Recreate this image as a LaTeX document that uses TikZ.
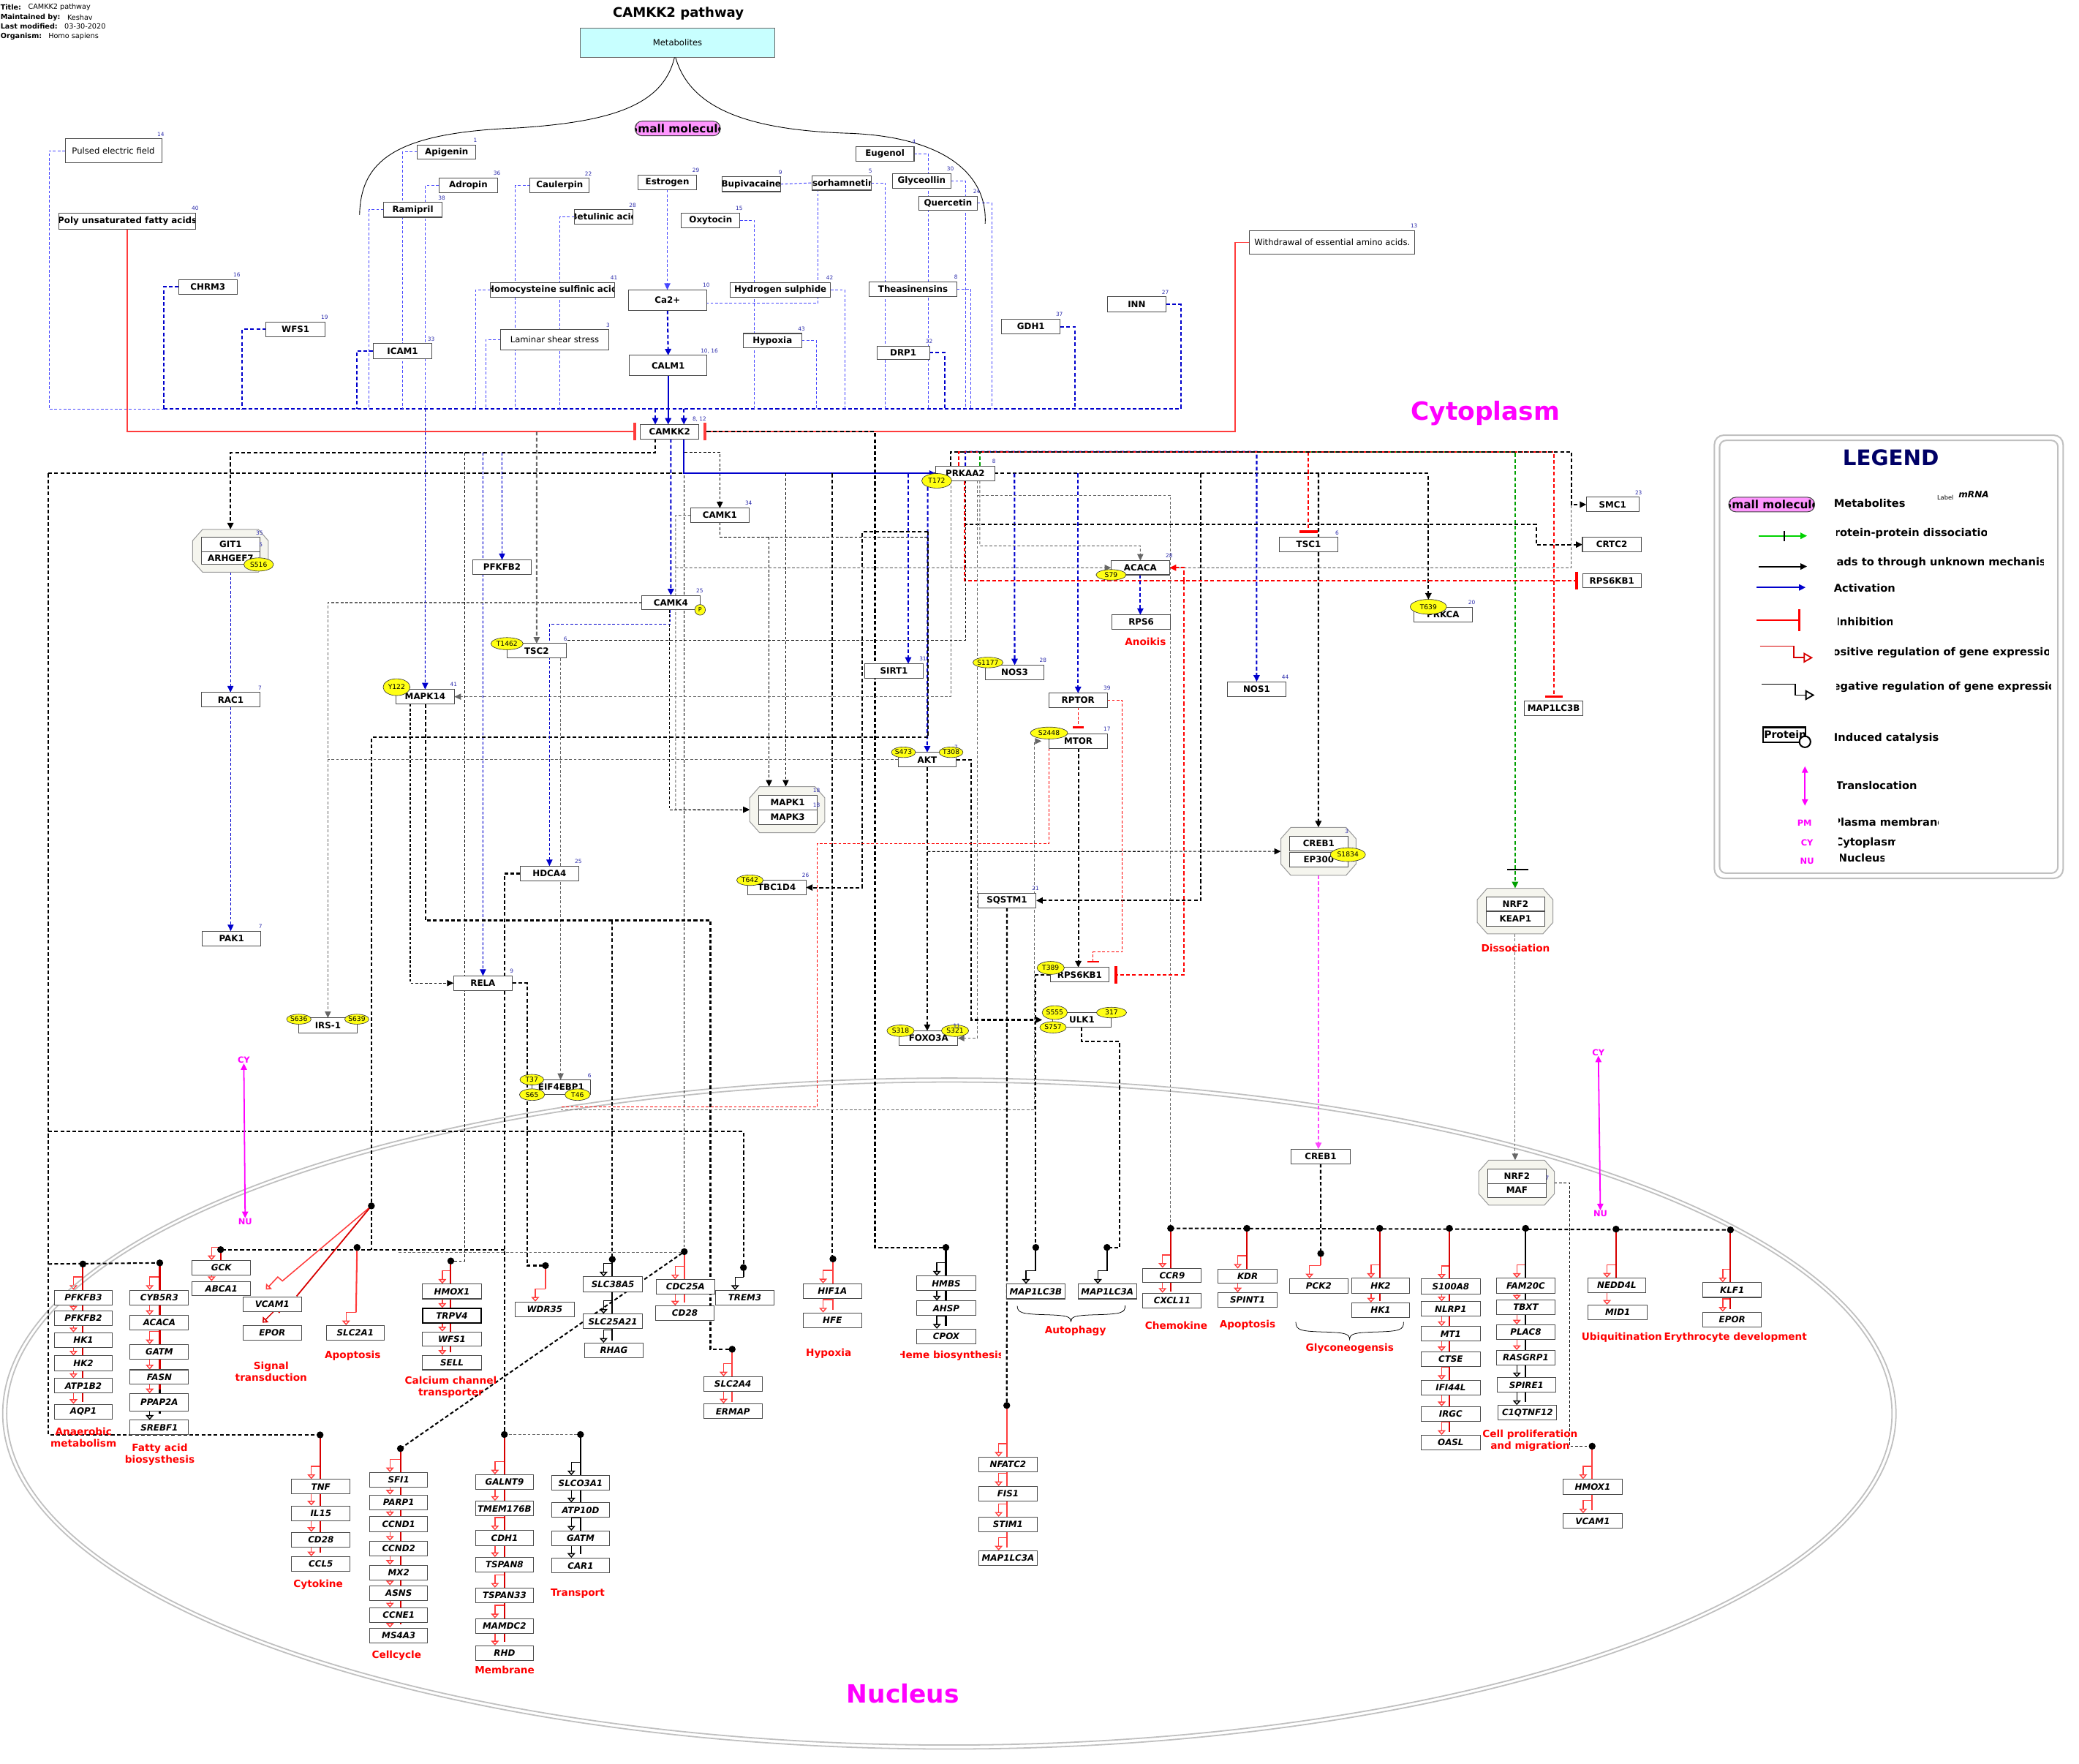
\documentclass[tikz,border=0pt]{standalone}
\usepackage{fontspec}
\setmainfont{DejaVu Sans}
\usetikzlibrary{arrows.meta,shapes.geometric}

\definecolor{pblue}{RGB}{0,0,204}
\definecolor{mblue}{RGB}{70,70,255}
\definecolor{gred}{RGB}{215,0,0}
\definecolor{lred}{RGB}{255,60,60}
\definecolor{mag}{RGB}{255,0,255}
\definecolor{lmag}{RGB}{255,70,255}
\definecolor{ptmy}{RGB}{255,255,20}
\definecolor{metcyan}{RGB}{200,255,255}
\definecolor{pill}{RGB}{255,150,255}
\definecolor{cpxfill}{RGB}{245,245,238}
\definecolor{numblue}{RGB}{40,40,170}
\definecolor{navy}{RGB}{0,0,102}
\definecolor{ggreen}{RGB}{0,160,0}
\definecolor{lgreen}{RGB}{0,210,0}
\definecolor{lgray}{RGB}{192,192,192}

\newcommand\pf{\fontsize{9.3}{10}\selectfont\bfseries}
\newcommand\gf{\fontsize{9.3}{10}\selectfont\bfseries\itshape}
\newcommand\tf{\fontsize{9.1}{10}\selectfont}
\newcommand\pillf{\fontsize{12}{13}\selectfont\bfseries}
\newcommand\lf{\fontsize{11.5}{12}\selectfont\bfseries}

\pgfdeclarelayer{bg}
\pgfsetlayers{bg,main}

\tikzset{
  gbox/.style={draw=black!70,line width=0.8pt,fill=white,inner sep=0pt,outer sep=0pt},
  ptm/.style={ellipse,draw=black!80,line width=0.5pt,fill=ptmy,inner sep=0pt,font=\fontsize{7.2}{8}\selectfont},
  num/.style={inner sep=0pt,text=numblue,font=\fontsize{5.8}{6}\selectfont},
  rlab/.style={inner sep=0pt,text=red,align=center,font=\fontsize{10.7}{12.5}\selectfont\bfseries},
  clab/.style={inner sep=0pt,text=mag,font=\fontsize{9}{10}\selectfont\bfseries},
  meta/.style={anchor=west,inner sep=0pt,font=\fontsize{7.6}{8}\selectfont},
  atip/.style={-{Triangle[length=7pt,width=6.5pt]}},
  otip/.style={-{Triangle[open,length=5pt,width=8.5pt]}},
  inhb/.style={-{Bar[width=19pt,line width=2.8pt]}},
  sinhb/.style={-{Bar[width=12pt,line width=2pt]}},
  dsh/.style={dash pattern=on 3pt off 2pt},
  dshk/.style={dash pattern=on 4pt off 2.5pt},
  mb/.style={mblue,line width=0.8pt,dsh},
  pb/.style={pblue,line width=1.6pt,dshk},
  pbt/.style={pblue,line width=0.8pt,dsh},
  kd/.style={black,line width=0.8pt,dsh},
  kdd/.style={black,line width=1.6pt,dshk},
  gyd/.style={black!60,line width=0.8pt,dsh},
  gydd/.style={black!60,line width=1.6pt,dshk},
  rdt/.style={red,line width=0.8pt,dsh},
  rdd/.style={red,line width=1.6pt,dshk},
  rsol/.style={lred,line width=1.4pt},
  gnd/.style={ggreen,line width=1.6pt,dshk},
  mgd/.style={lmag,line width=1.6pt,dshk},
  gline/.style={line width=1.6pt},
}

% box node given by its corners; the label is clipped to the box
\newcommand\NB[7]{%
  \node[gbox,minimum width={(#5-#3)*0.05cm},minimum height={(#6-#4)*0.05cm},
    path picture={\node[inner sep=0pt,font=#1] at (path picture bounding box.center) {#7};}]
    (#2) at ({(#3+#5)/2},{(#4+#6)/2}) {};}
\newcommand\PN[6]{\NB{\pf}{#1}{#2}{#3}{#4}{#5}{#6}}
\newcommand\GN[6]{\NB{\gf}{#1}{#2}{#3}{#4}{#5}{#6}}
\newcommand\TN[6]{\NB{\tf}{#1}{#2}{#3}{#4}{#5}{#6}}
% gene box with its expression glyph: name x1 x2 y1 y2 text colour xline xglyph
\newcommand\GG[9]{%
  \begin{pgfonlayer}{bg}\draw[#7,line width=1.1pt,otip] (#8,{#4-10}) -- (#9,{#4-10}) -- (#9,{#4-0.3});\end{pgfonlayer}%
  \GN{#1}{#2}{#4}{#3}{#5}{#6}}
% complex: octagonal outline plus an anchor node of the same extent
\newcommand\CX[5]{%
  \node[inner sep=0pt,outer sep=0pt,minimum width={(#4-#2)*0.05cm},minimum height={(#5-#3)*0.05cm}] (#1) at ({(#2+#4)/2},{(#3+#5)/2}) {};
  \draw[draw=black!40,line width=0.8pt,fill=cpxfill] ({#2+7.5},#3) -- ({#4-7.5},#3) -- (#4,{#3+8.5}) -- (#4,{#5-8.5})
     -- ({#4-7.5},#5) -- ({#2+7.5},#5) -- (#2,{#5-8.5}) -- (#2,{#3+8.5}) -- cycle;}
% phosphosite
\newcommand\PT[6]{\node[ptm,minimum width={#4*0.05cm},minimum height={#5*0.05cm}] (#1) at (#2,#3) {#6};}
% small-molecule pill
\newcommand\PILL[5]{\node[draw=black!75,line width=0.8pt,fill=pill,rounded corners=0.27cm,inner sep=0pt,
   minimum width={(#4-#2)*0.05cm},minimum height={(#5-#3)*0.05cm},
   path picture={\node[inner sep=0pt,font=\pillf] at (path picture bounding box.center) {Small molecule};}]
   (#1) at ({(#2+#4)/2},{(#3+#5)/2}) {};}
\newcounter{numc}
\newcommand\NUM[3]{\stepcounter{numc}\node[num] (num\arabic{numc}) at (#1,#2) {#3};}
\newcommand\DOT[3]{\coordinate (#1) at (#2,#3);\fill (#1) circle[radius=0.13cm];}
\newcommand\RL[4]{\node[rlab] (#1) at (#2,#3) {#4};}
\newcommand\LT[5]{\begin{scope}\clip (#2,{#4-9}) rectangle (#3,{#4+9});\node[inner sep=0pt,font=\lf] (#1) at ({(#2+#3)/2},#4) {#5};\end{scope}}

\begin{document}
\begin{tikzpicture}[x=0.05cm,y=-0.05cm]
\useasboundingbox (0,0) rectangle (1568,1330);

% ---------- header ----------
\node[meta,font=\fontsize{7.6}{8}\selectfont\bfseries] (m1a) at (0.3,5.3) {Title:};
\node[meta] (m1b) at (21.1,5.3) {CAMKK2 pathway};
\node[meta,font=\fontsize{7.6}{8}\selectfont\bfseries] (m2a) at (0.3,13.3) {Maintained by:};
\node[meta] (m2b) at (50.6,13.3) {Keshav};
\node[meta,font=\fontsize{7.6}{8}\selectfont\bfseries] (m3a) at (0.3,19.9) {Last modified:};
\node[meta] (m3b) at (48.5,19.9) {03-30-2020};
\node[meta,font=\fontsize{7.6}{8}\selectfont\bfseries] (m4a) at (0.3,27.7) {Organism:};
\node[meta] (m4b) at (36.4,27.7) {Homo sapiens};
\node[inner sep=0pt,font=\fontsize{14.2}{15}\selectfont\bfseries] (title) at (511.6,10.1) {CAMKK2 pathway};
\node[draw=black!60,line width=0.8pt,fill=metcyan,inner sep=0pt,minimum width={146.4*0.05cm},minimum height={22.2*0.05cm},font=\tf] (metab) at (511,32.2) {Metabolites};
\draw[black,line width=0.7pt] (508.7,43.3) .. controls (500,80) and (460,92) .. (390,96.5) .. controls (300,100) and (272,120) .. (271.2,162.1);
\draw[black,line width=0.7pt] (509.5,43.3) .. controls (520,80) and (560,98) .. (640,100.5) .. controls (710,103) and (745,130) .. (743,168.7);
\PILL{smallmol}{478.9}{91.4}{543.3}{102.4}

% ---------- inputs ----------
\TN{pef}{49.1}{104.7}{121.9}{122.6}{Pulsed electric field}
\PN{pufa}{44.6}{160.7}{147.5}{172.8}{Poly unsaturated fatty acids}
\PN{apigenin}{314.7}{109.3}{359}{120}{Apigenin}
\PN{adropin}{331}{134.4}{375.4}{145.1}{Adropin}
\PN{ramipril}{289.4}{152.6}{333.4}{163.8}{Ramipril}
\PN{chrm3}{134.8}{210.8}{178.8}{222.1}{CHRM3}
\PN{wfs1c}{200.7}{242.9}{245.1}{253.8}{WFS1}
\PN{icam1}{281.5}{259}{325.8}{270.3}{ICAM1}
\PN{homocys}{369.8}{212.9}{463.4}{224.1}{Homocysteine sulfinic acid}
\TN{laminar}{377.5}{248.6}{459.2}{263.9}{Laminar shear stress}
\PN{caulerpin}{399.8}{134.4}{444.4}{145.4}{Caulerpin}
\PN{betulinic}{433.3}{157.8}{477.6}{169}{Betulinic acid}
\PN{estrogen}{481.3}{132.1}{525.3}{143.1}{Estrogen}
\PN{oxytocin}{514}{160.7}{558}{171.9}{Oxytocin}
\PN{bupi}{544.6}{133.3}{588.6}{144.5}{Bupivacaine}
\PN{isorh}{612.7}{132.4}{657}{143.4}{Isorhamnetin}
\PN{eugenol}{645.4}{110.5}{689.4}{121.4}{Eugenol}
\PN{glyceollin}{673.1}{131}{717.1}{141.9}{Glyceollin}
\PN{quercetin}{692.8}{148}{737.2}{158.3}{Quercetin}
\PN{ca}{473.9}{218.6}{533}{234.2}{Ca2+}
\PN{calm1}{474.7}{268}{533.2}{283.2}{CALM1}
\PN{hs}{550.7}{213.4}{626.4}{224.1}{Hydrogen sulphide}
\PN{hypoxia}{560.4}{251.5}{604.7}{262.5}{Hypoxia}
\PN{theas}{655.6}{212.6}{721.6}{223.5}{Theasinensins}
\PN{drp1}{661.4}{261}{701}{271.1}{DRP1}
\PN{gdh1}{755.4}{240.8}{799.7}{251.8}{GDH1}
\PN{inn}{835.1}{223.8}{879.5}{235.1}{INN}
\TN{withdrawal}{942.5}{173.9}{1067}{191.8}{Withdrawal of essential amino acids.}
\PN{camkk2}{482.9}{320.2}{527.2}{331.1}{CAMKK2}
\node[inner sep=0pt,text=mag,font=\fontsize{27}{30}\selectfont\bfseries] (cytolab) at (1120.3,311.5) {Cytoplasm};

% ---------- cytoplasm ----------
\PN{prkaa2}{705.8}{351.6}{750.1}{362.6}{PRKAA2}
\PN{camk1}{520.9}{383.3}{564.9}{394}{CAMK1}
\CX{gitcx}{145.3}{399.2}{202.3}{431.5}
\PN{git1}{151.9}{405.2}{196}{416.2}{GIT1}
\PN{arhgef7}{151.9}{416.2}{196}{425.4}{ARHGEF7}
\PN{pfkfb2c}{356.6}{422.3}{400.7}{433.2}{PFKFB2}
\PN{acaca}{838}{422.8}{882.1}{433.5}{ACACA}
\PN{tsc1}{964.9}{405.2}{1009}{416.2}{TSC1}
\PN{smc1}{1196.4}{375}{1236.1}{386}{SMC1}
\PN{crtc2}{1193.5}{405.2}{1237.7}{416.2}{CRTC2}
\PN{rps6kbr}{1193.7}{432.4}{1237.7}{443.3}{RPS6KB1}
\PN{camk4}{483.9}{449}{528}{459.9}{CAMK4}
\PN{rps6}{838.8}{463.7}{882.6}{474.6}{RPS6}
\PN{prkca}{1066.2}{458.2}{1110.5}{469.1}{PRKCA}
\PN{tsc2}{382.5}{485.3}{427}{496.3}{TSC2}
\PN{rac1}{151.9}{522.2}{196}{533.2}{RAC1}
\PN{mapk14}{298.6}{519.9}{342.7}{530.9}{MAPK14}
\PN{sirt1}{652.2}{500.6}{696.3}{511.5}{SIRT1}
\PN{nos3}{743.2}{501.7}{787.3}{512.7}{NOS3}
\PN{nos1}{925.6}{514.1}{969.9}{525.1}{NOS1}
\PN{rptor}{791.1}{522.8}{835.1}{533.5}{RPTOR}
\PN{map1lc3br}{1149.8}{528.6}{1193.7}{539.8}{MAP1LC3B}
\PN{mtor}{791.1}{553.4}{835.4}{564.3}{MTOR}
\PN{akt}{677.3}{567.5}{721.3}{578.5}{AKT}
\CX{mapkcx}{565.4}{593.2}{622.1}{628}
\PN{mapk1}{572}{599.8}{616.1}{610.8}{MAPK1}
\PN{mapk3}{572}{610.8}{616.1}{621.7}{MAPK3}
\CX{crebcx}{966}{624}{1022.7}{660.1}
\PN{creb1c}{972.6}{630.7}{1016.6}{641.6}{CREB1}
\PN{ep300}{972.6}{642.8}{1016.6}{653.7}{EP300}
\CX{nrfcx}{1114.2}{669.9}{1171.2}{704.2}
\PN{nrf2a}{1120.8}{676.2}{1165.1}{687.2}{NRF2}
\PN{keap1}{1120.8}{687.2}{1165.1}{698.4}{KEAP1}
\PN{hdca4}{392.4}{653.2}{436.4}{664.4}{HDCA4}
\PN{tbc1d4}{563.8}{663.8}{607.9}{674.8}{TBC1D4}
\PN{sqstm1}{737.4}{673.6}{781.5}{684.6}{SQSTM1}
\PN{pak1}{152.5}{702.2}{196.8}{713.2}{PAK1}
\PN{rela}{342.1}{735.9}{386.4}{746.9}{RELA}
\PN{rps6kb1}{792.1}{729.6}{836.5}{740.6}{RPS6KB1}
\PN{irs1}{225.3}{767.7}{269.3}{778.9}{IRS-1}
\PN{ulk1}{794}{763.6}{838}{774.6}{ULK1}
\PN{foxo3a}{678.3}{777.5}{722.4}{788.4}{FOXO3A}
\PN{eif4ebp1}{401.4}{814.4}{445.1}{825.4}{EIF4EBP1}
\PN{creb1n}{973.9}{866.6}{1018.2}{877.6}{CREB1}
\CX{mafcx}{1115.3}{874.9}{1172.3}{908.8}
\PN{nrf2b}{1121.9}{881.6}{1166.2}{892.4}{NRF2}
\PN{maf}{1121.9}{892.4}{1166.2}{903}{MAF}

% phosphosites
\PT{p_t172}{706.5}{362.6}{22.7}{11}{T172}
\PT{p_s516}{195.1}{425.7}{22.4}{10}{S516}
\PT{p_s79}{838}{433.5}{22.7}{8}{S79}
\PT{p_t639}{1077.3}{457.6}{27.4}{11.2}{T639}
\PT{p_t1462}{382.4}{485.4}{24.3}{9.2}{T1462}
\PT{p_y122}{299.1}{518.2}{20.3}{12.7}{Y122}
\PT{p_s1177}{745.1}{499.6}{21.6}{8}{S1177}
\PT{p_s2448}{791.2}{552.8}{28}{9}{S2448}
\PT{p_s473}{681.4}{567.3}{17}{8}{S473}
\PT{p_t308}{717.3}{567.3}{17.4}{8}{T308}
\PT{p_s1834}{1016.6}{644.5}{26.4}{10.4}{S1834}
\PT{p_t642}{565.6}{663.8}{20}{8}{T642}
\PT{p_t389}{792.4}{729.9}{20.6}{9.8}{T389}
\PT{p_s636}{225.4}{768.6}{18.5}{7.5}{S636}
\PT{p_s639}{269.1}{768.6}{16}{7.5}{S639}
\PT{p_s555}{795.5}{763.6}{19}{10.4}{S555}
\PT{p_s757}{794.2}{774.7}{20}{8.6}{S757}
\PT{p_317}{838.3}{763.6}{22.7}{8}{317}
\PT{p_s318}{679.2}{777.3}{20.6}{8.7}{S318}
\PT{p_s321}{720.3}{777.3}{20.6}{8.7}{S321}
\PT{p_t37}{401.1}{814.2}{18}{8}{T37}
\PT{p_s65}{401.3}{825.5}{19}{8.7}{S65}
\PT{p_t46}{435.6}{825.5}{19}{8.7}{T46}
\node[circle,draw=black!80,line width=0.5pt,fill=ptmy,minimum size={8*0.05cm},inner sep=0pt,font=\fontsize{6.3}{7}\selectfont] (p_camk4) at (528,459.9) {P};

% reference numbers
\NUM{121.3}{101.5}{14}\NUM{147.2}{157.2}{40}\NUM{358.5}{105.9}{1}\NUM{374.8}{130.7}{36}
\NUM{333.2}{149.4}{38}\NUM{178.6}{207.4}{16}\NUM{244.8}{239.4}{19}\NUM{325.2}{255.8}{33}
\NUM{463.1}{209.7}{41}\NUM{458.6}{245.5}{3}\NUM{443.8}{131.2}{22}\NUM{477.1}{154.6}{28}
\NUM{524.8}{128.4}{29}\NUM{557.5}{157.2}{15}\NUM{588.6}{130.1}{9}\NUM{656.4}{128.9}{5}
\NUM{689.2}{106.7}{4}\NUM{716.8}{127.5}{30}\NUM{736.6}{144.2}{24}\NUM{532.7}{214.9}{10}
\NUM{535}{264.8}{10, 16}\NUM{625.8}{209.4}{42}\NUM{604.5}{248}{43}\NUM{721}{208.8}{8}
\NUM{700.8}{257.6}{32}\NUM{799}{237.1}{37}\NUM{878.9}{220.4}{27}\NUM{1066.5}{170.5}{13}
\NUM{527.5}{316.4}{8, 12}\NUM{749.6}{348.1}{8}\NUM{564.6}{379.3}{34}\NUM{195.7}{402.1}{35}
\NUM{196.8}{410.7}{5}\NUM{881.8}{419.1}{28}\NUM{1008.4}{402.1}{6}\NUM{1235.8}{371.8}{23}
\NUM{527.7}{445.5}{25}\NUM{1110}{454.4}{20}\NUM{426.4}{482.1}{6}\NUM{196}{518.8}{7}
\NUM{342.1}{516.2}{41}\NUM{696}{496.8}{31}\NUM{786.7}{497.7}{28}\NUM{969.4}{510.7}{44}
\NUM{834.9}{519}{39}\NUM{834.9}{549.6}{17}\NUM{721.1}{563.7}{7}\NUM{615.8}{596}{18}
\NUM{615.8}{607}{18}\NUM{1015.8}{627.2}{3}\NUM{436.2}{649.4}{25}\NUM{607.6}{660.1}{26}
\NUM{781}{669.9}{21}\NUM{196.5}{698.7}{7}\NUM{385.9}{732.2}{9}\NUM{721.6}{773.7}{11}
\NUM{444.6}{811.2}{6}\NUM{1167}{888.4}{7}

\RL{anoikis}{863.9}{484.1}{Anoikis}
\RL{dissoc}{1143}{714.9}{Dissociation}

% translocation markers
\node[clab] (cy1) at (183.9,799.4) {CY};
\node[clab] (nu1) at (184.9,921.1) {NU};
\node[clab] (cy2) at (1205.5,793.6) {CY};
\node[clab] (nu2) at (1207,915.2) {NU};

% ---------- nucleus ----------
\node[inner sep=0pt,text=mag,font=\fontsize{27}{30}\selectfont\bfseries] (nuclab) at (681,1277) {Nucleus};

\DOT{d_anae}{62.5}{953.2}\DOT{d_fatty}{120.5}{952.4}\DOT{d_gck}{166.4}{942.4}
\DOT{d_vcam}{280.1}{909.4}\DOT{d_slc2a1}{269.3}{940.7}\DOT{d_calc}{340}{950.9}
\DOT{d_wdr35}{411.4}{954.4}\DOT{d_slc38}{461.8}{949.7}\DOT{d_cdc}{516.1}{943.9}
\DOT{d_trem3}{560.7}{955.9}\DOT{d_slc2a4}{552.2}{1017.5}\DOT{d_hif1a}{628.2}{949.4}
\DOT{d_hmbs}{713.4}{940.7}\DOT{d_map1lc3b}{781.2}{940.7}\DOT{d_map1lc3a}{834.9}{940.7}
\DOT{d_ccr9}{882.9}{926.3}\DOT{d_kdr}{940.4}{926.3}\DOT{d_pck2}{996.1}{945.3}
\DOT{d_hk2}{1040.6}{926.3}\DOT{d_s100}{1093.1}{926.3}\DOT{d_fam}{1150.6}{926.3}
\DOT{d_nedd}{1218.8}{926.9}\DOT{d_klf1}{1305.1}{927.5}\DOT{d_hmox1r}{1200.8}{1090.6}
\DOT{d_tnf}{241.4}{1082.1}\DOT{d_sfi1}{302}{1092.4}\DOT{d_galnt9}{380.4}{1081.8}
\DOT{d_slco}{437.8}{1081.8}\DOT{d_nfatc2}{759.3}{1059.9}

\GG{g_pfkfb3}{40.9}{84.9}{973}{984}{PFKFB3}{lred}{62.5}{55.4}
\GG{g_pfkfb2}{40.9}{84.9}{988.6}{999.4}{PFKFB2}{lred}{62.5}{55.4}
\GG{g_hk1a}{40.9}{84.9}{1005}{1016}{HK1}{lred}{62.5}{55.4}
\GG{g_hk2a}{40.9}{84.9}{1022.5}{1033.6}{HK2}{lred}{62.5}{55.4}
\GG{g_atp1b2}{40.9}{84.9}{1039.5}{1050.6}{ATP1B2}{lred}{62.5}{55.4}
\GG{g_aqp1}{40.9}{84.9}{1059}{1070}{AQP1}{lred}{62.5}{55.4}
\GG{g_cyb5r3}{98.1}{142.2}{973}{984}{CYB5R3}{lred}{120.5}{112.9}
\GG{g_acacan}{98.1}{142.2}{992}{1003}{ACACA}{lred}{120.5}{112.9}
\GG{g_gatma}{98.1}{142.2}{1014}{1025}{GATM}{lred}{120.5}{112.9}
\GG{g_fasn}{98.1}{142.2}{1033}{1044}{FASN}{lred}{120.5}{112.9}
\GG{g_ppap2a}{98.1}{142.2}{1051}{1064}{PPAP2A}{lred}{120.5}{112.9}
\GG{g_srebf1}{98.1}{142.2}{1071}{1082}{SREBF1}{black}{120.5}{112.9}
\GG{g_gck}{145}{189}{950.6}{961.4}{GCK}{lred}{166.4}{159.6}
\GG{g_abca1}{145}{189}{966.4}{977.2}{ABCA1}{lred}{166.4}{159.6}
\GN{g_vcam1a}{183.3}{978}{227.4}{989}{VCAM1}
\GN{g_epora}{183.3}{999.7}{227.4}{1010.5}{EPOR}
\GG{g_slc2a1}{246}{290}{999.7}{1010.5}{SLC2A1}{lred}{268.5}{261}
\GG{g_hmox1a}{318.7}{363}{968.4}{979.5}{HMOX1}{lred}{340}{333.6}
\GG{g_trpv4}{318.7}{363}{986.6}{997.7}{TRPV4}{lred}{340}{333.6}
\draw[line width=1.8pt] (g_trpv4.north west) rectangle (g_trpv4.south east);
\GG{g_wfs1n}{318.7}{363}{1004.4}{1015.2}{WFS1}{lred}{340}{333.6}
\GG{g_sell}{318.7}{363}{1022}{1033}{SELL}{lred}{340}{333.6}
\GG{g_wdr35}{388.7}{433}{981.9}{993}{WDR35}{lred}{411.4}{403.7}
\GG{g_slc38a5}{440.1}{484.4}{962.9}{974}{SLC38A5}{black}{461.8}{455.2}
\GG{g_slc25a21}{440.1}{484.4}{991}{1002}{SLC25A21}{black}{461.8}{455.2}
\GG{g_rhag}{441}{485}{1012.9}{1023.7}{RHAG}{black}{461.8}{455.2}
\GG{g_cdc25a}{495}{539}{965}{976}{CDC25A}{lred}{516.1}{509.2}
\GG{g_cd28a}{494.5}{538.5}{984.8}{995.6}{CD28}{lred}{516.1}{509.2}
\GG{g_trem3}{539.6}{583.9}{973.1}{984.2}{TREM3}{black}{560.7}{554.4}
\GG{g_slc2a4}{530.6}{574.9}{1038.3}{1049.4}{SLC2A4}{lred}{552.2}{545.7}
\GG{g_ermap}{530.6}{574.9}{1058.7}{1069.9}{ERMAP}{lred}{552.2}{545.7}
\GG{g_hif1a}{605.8}{649.8}{968.1}{979.2}{HIF1A}{lred}{628.2}{620.8}
\GG{g_hfe}{605.8}{649.8}{990.1}{1001.2}{HFE}{lred}{628.2}{620.8}
\GG{g_hmbs}{691.5}{735.8}{962.3}{973.4}{HMBS}{black}{713.4}{706.6}
\GG{g_ahsp}{691.5}{735.8}{981}{992.1}{AHSP}{black}{713.4}{706.6}
\GG{g_cpox}{691.5}{735.8}{1002.3}{1013.4}{CPOX}{black}{713.4}{706.6}
\GG{g_map1lc3b}{759}{803.3}{968.4}{979.5}{MAP1LC3B}{black}{781.2}{773.8}
\GG{g_map1lc3a}{813}{857.3}{968.4}{979.5}{MAP1LC3A}{black}{834.9}{828}
\GG{g_ccr9}{862}{906.1}{956.4}{967}{CCR9}{lred}{882.9}{876.8}
\GG{g_cxcl11}{862}{906.1}{975.2}{986.3}{CXCL11}{lred}{882.9}{876.8}
\GG{g_kdr}{918.8}{963.1}{957}{967.9}{KDR}{lred}{940.4}{933.5}
\GG{g_spint1}{918.8}{963.1}{974.9}{985.7}{SPINT1}{lred}{940.4}{933.5}
\GG{g_pck2}{972.6}{1016.6}{964.3}{975.4}{PCK2}{lred}{996.1}{987.6}
\GG{g_hk2b}{1019.3}{1063.3}{964}{975.2}{HK2}{lred}{1040.6}{1034}
\GG{g_hk1b}{1019.3}{1063.3}{982.5}{993.6}{HK1}{lred}{1040.6}{1034}
\GG{g_s100a8}{1072}{1116.3}{964.6}{975.7}{S100A8}{lred}{1093.1}{1087.3}
\GG{g_nlrp1}{1072}{1116.3}{981.6}{992.7}{NLRP1}{lred}{1093.1}{1087.3}
\GG{g_mt1}{1072}{1116.3}{1000.3}{1011.4}{MT1}{lred}{1093.1}{1087.3}
\GG{g_ctse}{1072}{1116.3}{1019.3}{1030.4}{CTSE}{lred}{1093.1}{1087.3}
\GG{g_ifi44l}{1072}{1116.3}{1040.9}{1052}{IFI44L}{lred}{1093.1}{1087.3}
\GG{g_irgc}{1072}{1116.3}{1060.8}{1071.9}{IRGC}{lred}{1093.1}{1087.3}
\GG{g_oasl}{1072}{1116.3}{1082.4}{1093.5}{OASL}{lred}{1093.1}{1087.3}
\GG{g_fam20c}{1128.7}{1172.8}{964}{975.2}{FAM20C}{lred}{1150.6}{1144}
\GG{g_tbxt}{1128.7}{1172.8}{980.4}{991.2}{TBXT}{lred}{1150.6}{1144}
\GG{g_plac8}{1128.7}{1172.8}{999.1}{1010.2}{PLAC8}{lred}{1150.6}{1144}
\GG{g_rasgrp1}{1128.7}{1172.8}{1018.4}{1029.5}{RASGRP1}{lred}{1150.6}{1144}
\GG{g_spire1}{1129.2}{1173.3}{1038.9}{1050}{SPIRE1}{black}{1150.6}{1144}
\GG{g_c1qtnf12}{1130}{1174.1}{1059.9}{1071}{C1QTNF12}{black}{1150.6}{1144}
\GG{g_nedd4l}{1197.4}{1241.3}{963.8}{974.9}{NEDD4L}{lred}{1218.8}{1212}
\GG{g_mid1}{1197.9}{1242.4}{984.2}{995.3}{MID1}{lred}{1218.8}{1212}
\GG{g_klf1}{1284.2}{1328.6}{967.3}{978.4}{KLF1}{lred}{1305.1}{1299.3}
\GG{g_eporb}{1284.2}{1328.6}{989.5}{1000.6}{EPOR}{lred}{1305.1}{1299.3}
\GG{g_hmox1b}{1179.1}{1223.3}{1115.7}{1126.8}{HMOX1}{lred}{1200.8}{1194}
\GG{g_vcam1b}{1179.1}{1223.3}{1141.5}{1152.6}{VCAM1}{lred}{1200.8}{1194}
\GG{g_tnf}{220}{264}{1115.7}{1126.6}{TNF}{lred}{241.4}{234.8}
\GG{g_il15}{220}{264}{1135.6}{1146.7}{IL15}{lred}{241.4}{234.8}
\GG{g_cd28b}{220}{264}{1155.5}{1166.6}{CD28}{lred}{241.4}{234.8}
\GG{g_ccl5}{220}{264}{1173.9}{1185}{CCL5}{lred}{241.4}{234.8}
\GG{g_sfi1}{278.8}{322.6}{1110.5}{1121.6}{SFI1}{lred}{302}{294.1}
\GG{g_parp1}{278.8}{322.6}{1127.4}{1138.5}{PARP1}{lred}{302}{294.1}
\GG{g_ccnd1}{278.8}{322.6}{1143.8}{1154.9}{CCND1}{lred}{302}{294.1}
\GG{g_ccnd2}{278.8}{322.6}{1162.2}{1173.3}{CCND2}{lred}{302}{294.1}
\GG{g_mx2}{278.8}{322.6}{1180.3}{1191.4}{MX2}{lred}{302}{294.1}
\GG{g_asns}{278.8}{322.6}{1195.8}{1206.9}{ASNS}{lred}{302}{294.1}
\GG{g_ccne1}{278.8}{322.6}{1212.5}{1223.6}{CCNE1}{lred}{302}{294.1}
\GG{g_ms4a3}{278.8}{322.6}{1227.7}{1238.8}{MS4A3}{lred}{302}{294.1}
\GG{g_galnt9}{358.5}{402.5}{1112.2}{1123.3}{GALNT9}{lred}{380.4}{373.3}
\GG{g_tmem176b}{358.5}{402.5}{1132.1}{1143.2}{TMEM176B}{lred}{380.4}{373.3}
\GG{g_cdh1}{358.5}{402.5}{1154.3}{1165.4}{CDH1}{lred}{380.4}{373.3}
\GG{g_tspan8}{358.5}{402.5}{1174.5}{1185.6}{TSPAN8}{lred}{380.4}{373.3}
\GG{g_tspan33}{358.5}{402.5}{1197.6}{1208.7}{TSPAN33}{lred}{380.4}{373.3}
\GG{g_mamdc2}{358.5}{402.5}{1220.7}{1231.8}{MAMDC2}{lred}{380.4}{373.3}
\GG{g_rhd}{358.5}{402.5}{1241.1}{1252.2}{RHD}{lred}{380.4}{373.3}
\GG{g_slco3a1}{415.9}{459.9}{1112.8}{1123.9}{SLCO3A1}{black}{437.8}{430.9}
\GG{g_atp10d}{415.9}{459.9}{1133.3}{1144.4}{ATP10D}{black}{437.8}{430.9}
\GG{g_gatmb}{415.9}{459.9}{1154.6}{1165.7}{GATM}{black}{437.8}{430.9}
\GG{g_car1}{415.9}{459.9}{1175.1}{1186.2}{CAR1}{black}{437.8}{430.9}
\GG{g_nfatc2}{738.2}{782.3}{1098.8}{1109.9}{NFATC2}{lred}{759.3}{753.2}
\GG{g_fis1}{738.2}{782.3}{1121}{1132.1}{FIS1}{lred}{759.3}{753.2}
\GG{g_stim1}{738.2}{782.3}{1144.1}{1155.2}{STIM1}{lred}{759.3}{753.2}
\GG{g_map1lc3ab}{738.2}{782.3}{1169.5}{1180.6}{MAP1LC3A}{lred}{759.3}{753.2}

% process labels
\RL{l_anae}{63}{1083.9}{Anaerobic\\metabolism}
\RL{l_fatty}{120.5}{1097}{Fatty acid\\biosysthesis}
\RL{l_signal}{204.5}{1034.2}{Signal\\transduction}
\RL{l_apop1}{266}{1022.5}{Apoptosis}
\RL{l_calc}{340}{1046.2}{Calcium channel\\transporter}
\RL{l_cytok}{240}{1194.9}{Cytokine}
\RL{l_cellc}{299.1}{1248.4}{Cellcycle}
\RL{l_membr}{380.6}{1259.5}{Membrane}
\RL{l_transp}{435.7}{1202}{Transport}
\RL{l_hypox}{625}{1021}{Hypoxia}
\begin{scope}\clip (679,1014) rectangle (755,1031);\RL{l_heme}{717}{1022.2}{Heme biosynthesis}\end{scope}
\RL{l_autoph}{811.1}{1003.8}{Autophagy}
\RL{l_chemo}{887.1}{999.4}{Chemokine}
\RL{l_apop2}{940.9}{999.1}{Apoptosis}
\RL{l_glyco}{1018}{1016.7}{Glyconeogensis}
\RL{l_prolif}{1154}{1086.5}{Cell proliferation\\and migration}
\node[rlab,anchor=west] (l_ubiq) at (1192.7,1008.8) {Ubiquitination};
\node[rlab,anchor=west] (l_ery) at (1254.9,1008.8) {Erythrocyte development};

% braces
\draw[black,line width=0.6pt] (767.2,984.8) .. controls (767.5,990) and (770,991) .. (790,991.5) .. controls (805,992) and (807.5,993) .. (807.7,996.5) .. controls (808,993) and (810,992) .. (826,991.5) .. controls (846,991) and (848.6,990) .. (848.6,984.5);
\draw[black,line width=0.6pt] (977.3,997) .. controls (977.5,1003) and (980,1004) .. (1000,1004.5) .. controls (1015,1005) and (1017.6,1006) .. (1017.9,1010) .. controls (1018.2,1006) and (1021,1005) .. (1036,1004.5) .. controls (1056,1004) and (1058.6,1003) .. (1058.6,997);

% ---------- legend ----------
\draw[lgray,line width=1.6pt,rounded corners=0.35cm] (1293,328.2) rectangle (1556,662.4);
\draw[lgray,line width=1.6pt,rounded corners=0.25cm] (1296.9,332.1) rectangle (1552.1,658.5);
\node[inner sep=0pt,text=navy,font=\fontsize{23}{25}\selectfont\bfseries] (legtitle) at (1426.1,345.3) {LEGEND};
\PILL{legpill}{1303.8}{375}{1368.6}{386}
\node[inner sep=0pt,anchor=west,font=\lf] (l_metab) at (1383,379.3) {Metabolites};
\node[inner sep=0pt,anchor=east,font=\fontsize{6.5}{7}\selectfont] (l_label) at (1473.5,375) {Label};
\node[inner sep=0pt,font=\fontsize{9.5}{10}\selectfont\bfseries\itshape] (l_mrna) at (1488.6,372.7) {mRNA};
\coordinate (lg1a) at (1326.3,404.1); \coordinate (lg1b) at (1362.9,404.1);
\draw[lgreen,line width=1.6pt,atip] (lg1a) -- (lg1b);
\draw[black,line width=1.6pt] (1345.9,400.3) -- (1345.9,407.9);
\LT{l_ppd}{1385}{1498}{402.5}{Protein-protein dissociation}
\coordinate (lg2a) at (1326.3,427.2); \coordinate (lg2b) at (1362.9,427.2);
\draw[black,line width=1.6pt,atip] (lg2a) -- (lg2b);
\LT{l_leads}{1385}{1541}{424.6}{Leads to through unknown mechanism}
\coordinate (lg3a) at (1325,443); \coordinate (lg3b) at (1361.8,443);
\draw[pblue,line width=1.6pt,atip] (lg3a) -- (lg3b);
\node[inner sep=0pt,anchor=west,font=\lf] (l_act) at (1383,443.5) {Activation};
\coordinate (lg4a) at (1325,467.7); \coordinate (lg4b) at (1358.1,467.7);
\draw[red,line width=1.6pt,-{Bar[width=24pt,line width=3pt]}] (lg4a) -- (lg4b);
\LT{l_inh}{1386}{1427}{468.6}{Inhibition}
\coordinate (lg5a) at (1327.3,487.3); \coordinate (lg5b) at (1367.3,496);
\draw[gred,line width=1.4pt,-{Triangle[open,length=10pt,width=11pt]}] (lg5a) -- (1352.9,487.3) -- (1352.9,496) -- (lg5b);
\LT{l_pos}{1384}{1545}{492.2}{Positive regulation of gene expression}
\coordinate (lg6a) at (1328.6,515.9); \coordinate (lg6b) at (1368.6,524.2);
\draw[black,line width=1.4pt,-{Triangle[open,length=10pt,width=11pt]}] (lg6a) -- (1354.2,515.9) -- (1354.2,524.2) -- (lg6b);
\LT{l_neg}{1385}{1547}{518.2}{Negative regulation of gene expression}
\draw[black,line width=1.6pt,fill=white] (1329.7,548.5) rectangle (1361.6,560);
\begin{scope}\clip (1329.7,548.5) rectangle (1361.6,560);
\node[inner sep=0pt,anchor=west,font=\fontsize{11}{12}\selectfont\bfseries] (l_protein) at (1330.3,554) {Protein};
\end{scope}
\draw[black,line width=1.6pt,fill=white] (1361.3,559.4) circle[radius=0.21cm];
\LT{l_ind}{1383.5}{1462}{556.5}{Induced catalysis}
\coordinate (lg7a) at (1361.3,577.9); \coordinate (lg7b) at (1361.3,607.6);
\draw[mag,line width=1.4pt,{Triangle[length=7pt,width=6.5pt]}-{Triangle[length=7pt,width=6.5pt]}] (lg7a) -- (lg7b);
\LT{l_trans}{1385.5}{1445}{592.6}{Translocation}
\node[clab] (l_pm) at (1361,620.9) {PM};
\node[clab] (l_cy) at (1362.9,635.6) {CY};
\node[clab] (l_nu) at (1362.9,649.4) {NU};
\LT{l_plasma}{1387}{1462}{619.7}{Plasma membrane}
\LT{l_cyto}{1387}{1429}{635.6}{Cytoplasm}
\LT{l_nucl}{1388}{1421}{647.1}{Nucleus}

% =============== connectors (behind the nodes) ===============
\begin{pgfonlayer}{bg}
% nuclear envelope
\draw[lgray,line width=1.4pt] (716,1066) ellipse [x radius=35.7cm,y radius=12.65cm];
\draw[lgray,line width=1.4pt] (716,1066) ellipse [x radius=35.55cm,y radius=12.5cm];

% inputs collected on one bus towards CAMKK2
\draw[mb] (pef.west) -| (37,308.5) -- (123.4,308.5);
\draw[pb] (123.4,308.5) -- (890.5,308.5);
\draw[mb] (ramipril.west) -| (278.3,308.5);
\draw[mb] (apigenin.west) -| (303.6,308.5);
\draw[mb] (adropin.west) -| (320.8,308.5);
\draw[mb] (homocys.west) -| (358.7,308.5);
\draw[mb] (laminar.west) -| (366.4,308.5);
\draw[mb] (caulerpin.west) -| (388.8,308.5);
\draw[mb] (betulinic.west) -| (422.2,308.5);
\draw[mb,atip] (estrogen.south) -- (estrogen.south |- ca.north);
\draw[mb] (oxytocin.east) -| (569.1,308.5);
\draw[mb] (bupi.east) -- (isorh.west);
\draw[mb] (616.9,138.9) |- (ca.east |- 0,228.7);
\draw[mb] (isorh.east) -| (667.8,308.5);
\draw[mb] (hs.east) -| (637.2,308.5);
\draw[mb] (hypoxia.east) -| (615.8,308.5);
\draw[mb] (eugenol.east) -| (700.2,308.5);
\draw[mb] (glyceollin.east) -| (728.2,308.5);
\draw[mb] (quercetin.east) -| (748,308.5);
\draw[mb] (theas.east) -| (732.4,308.5);
\draw[pb] (chrm3.west) -| (123.4,308.5);
\draw[pb] (wfs1c.west) -| (182.8,308.5);
\draw[pb] (icam1.west) -| (269,308.5);
\draw[pb] (drp1.east) -| (712.4,308.5);
\draw[pb] (gdh1.east) -| (810.6,308.5);
\draw[pb] (inn.east) -| (890.5,308.5);
\draw[pb,atip] (494.2,308.5) -- (494.2,320.2);
\draw[pb,atip] (515.8,308.5) -- (515.8,320.2);
\draw[pb,atip] (ca.south) -- (calm1.north);
\draw[pblue,line width=1.6pt,atip] (calm1.south) -- (calm1.south |- camkk2.north);
\draw[rsol,inhb] (pufa.south) |- (479.6,325.6);
\draw[rsol,inhb] (withdrawal.west) -| (931.4,325.6) -- (530.6,325.6);

% CAMKK2 outputs
\draw[kdd] (533,325.6) -- (659.9,325.6) -- (659.9,940.7) -- (d_hmbs);
\draw[kdd,atip] (494.2,331.1) |- (173.8,341.5) -- (gitcx.north);
\draw[kd] (350.3,341.5) |- (d_calc);
\draw[pbt,atip] (364.2,341.5) -- (rela.north);
\draw[pbt,atip] (378.6,341.5) -- (pfkfb2c.north);
\draw[gydd,atip] (404.8,325.6) -- (tsc2.north);
\draw[kd,atip] (515.8,331.1) |- (542.9,341) -- (camk1.north);
\draw[kd] (515.8,341) -- (515.8,943.9);
\draw[pb,atip] (505.9,331.1) -- (camk4.north);
\draw[kdd] (36.4,357.1) -- (prkaa2.west);
\draw[pblue,line width=1.6pt,atip] (515.8,331.1) |- (prkaa2.west);
\draw[kdd] (36.4,357.1) -- (36.4,1082.1) -- (d_tnf);
\draw[kdd] (36.4,853) -| (d_trem3);
\draw[kdd] (36.4,953.2) -- (d_fatty);

% PRKAA2 outputs
\draw[kdd,atip] (prkaa2.east) -| (1077.3,452.2);
\draw[pb,atip] (765.1,357.1) -- (nos3.north);
\draw[pb,atip] (813.1,357.1) -- (rptor.north);
\draw[kdd,atip] (905.6,357.1) |- (sqstm1.east);
\draw[kdd,atip] (994.4,357.1) -- (crebcx.north);
\draw[gnd,atip] (739,351.6) |- (1142.7,340.6) -- (nrfcx.north);
\draw[black,line width=1.6pt] (1136.7,656) -- (1152.5,656);
\draw[pb,atip] (728.1,351.6) |- (947.8,340.6) -- (nos1.north);
\draw[rdd,inhb] (723,351.6) |- (1171.8,340.6) -- (1171.8,526.2);
\draw[rdd,inhb] (986.9,340.6) -- (986.9,401.8);
\draw[kdd,atip] (717.1,351.6) |- (1185,340.6) |- (smc1.west);
\draw[kdd,atip] (727.7,362.6) |- (1158.5,395.7) |- (crtc2.west);
\draw[rdd,inhb] (727.7,362.6) -- (727.7,437.8) -- (1190.2,437.8);
\draw[gyd] (737,362.6) |- (882.9,373.5) -- (d_ccr9);
\draw[kdd] (d_ccr9) -- (d_klf1);
\draw[gyd,atip] (739,362.6) |- (860,411.6) -- (acaca.north);
\draw[pb,atip] (acaca.south) -- (acaca.south |- rps6.north);
\draw[gyd,atip] (camk1.west) -| (509.5,610.5) -- (mapkcx.west);
\draw[gyd,atip] (509.5,428.2) -- (acaca.west);
\draw[gyd] (acaca.east) -- (1185,428.2) -- (1185,380.5);
\draw[rdd,atip] (893,437.8) |- (acaca.east);
\draw[rdd,inhb] (893,437.8) |- (840.5,735.1);
\draw[pb,atip] (685,357.1) -- (685,500.6);
\draw[pb,atip] (699.7,362.6) -- (akt.north);
\draw[kdd] (699.7,401) -- (699.7,556.2);
\draw[kdd,atip] (699.7,401) -| (650.4,669.3) -- (tbc1d4.east);
\draw[kd] (camk1.south) |- (699.7,404.9);
\draw[kd,atip] (580,404.9) -- (580,593.2);
\draw[kd,atip] (592.6,357.1) -- (592.6,593.2);
\draw[gyd,atip] (717.1,362.6) |- (mapk14.east);
\draw[kd] (728.2,362.6) |- (427,482.7);
\draw[gyd,atip] (737,362.6) |- (foxo3a.east);
\draw[kdd] (627.4,357.1) -- (627.4,949.4) -- (d_hif1a);

% AKT and its neighbours
\draw[kdd,atip] (akt.south) -- (akt.south |- foxo3a.north);
\draw[kdd,atip] (akt.east) -| (732.5,769.1) -- (786,769.1);
\draw[kdd] (699.7,556.2) -| (280.1,942.4);
\draw[kd,atip] (699.7,642.2) -- (crebcx.west);
\draw[gyd] (akt.west) -- (247.3,573);
\draw[gyd,atip] (camk4.west) -| (irs1.north);
\draw[kd,atip] (504.8,459.9) |- (mapkcx.west);
\draw[pbt,atip] (505.6,459.9) |- (414.4,470.9) -- (hdca4.north);
\draw[gyd,atip] (422.8,496.3) -- (422.8,814.4);
\draw[kdd] (hdca4.west) -| (d_galnt9);
\draw[kdd] (380.4,942.4) -- (d_gck);
\draw[gyd] (300.7,944.5) -- (516.1,944.5);
\draw[kdd] (d_sfi1) -- (d_cdc);
\draw[gyd] (d_galnt9) -- (d_slco);

% MAPK14, RELA, GIT1 branch
\draw[kd,atip] (309.4,530.9) |- (rela.west);
\draw[kdd] (320.8,530.9) |- (535.8,694.1) |- (d_slc2a4);
\draw[kdd] (461.8,694.1) -- (d_slc38);
\draw[pbt,atip] (320.8,308.5) -- (mapk14.north);
\draw[kdd] (rela.east) -| (397.5,954.4) -- (d_wdr35);
\draw[pbt,atip] (gitcx.south) -- (gitcx.south |- rac1.north);
\draw[pbt,atip] (rac1.south) -- (rac1.south |- pak1.north);

% mTOR branch
\draw[kdd,atip] (mtor.south) -- (mtor.south |- rps6kb1.north);
\draw[rdt,sinhb] (rptor.south) -- (813.1,549.3);
\draw[rdt,sinhb] (rptor.east) -| (846.5,718) -| (824.5,726);
\draw[rdt] (791.1,564.3) |- (616.4,636.1) |- (422.8,834.9);
\draw[gyd,atip] (422.8,837) -| (780.3,558.9) -- (785.5,558.9);
\draw[kdd] (sqstm1.south) -- (d_nfatc2);
\draw[kdd] (rps6kb1.west) -| (d_map1lc3b);
\draw[kdd] (815.6,774.6) |- (844.6,785.6) |- (d_map1lc3a);

% CREB1 and NRF2
\draw[mgd,atip] (crebcx.south) -- (crebcx.south |- creb1n.north);
\draw[kdd] (creb1n.south) -- (d_pck2);
\draw[gyd,atip] (nrfcx.south) -- (nrfcx.south |- mafcx.north);
\draw[kd] (mafcx.east) -| (1183.8,1090.6) -- (d_hmox1r);

% translocation arrows
\draw[mag,line width=1.4pt,{Triangle[length=7pt,width=6.5pt]}-{Triangle[length=7pt,width=6.5pt]}] (cy1.south) -- (nu1.north);
\draw[mag,line width=1.4pt,{Triangle[length=7pt,width=6.5pt]}-{Triangle[length=7pt,width=6.5pt]}] (cy2.south) -- (nu2.north);

% gene expression trunks
\draw[gred,gline] (d_anae) -- (62.5,1057);
\draw[gred,gline] (d_fatty) -- (120.5,1048);
\draw[black,gline] (120.5,1048) -- (120.5,1066);
\draw[gred,gline] (d_gck) -- (166.4,950);
\draw[lred,gline] (d_slc2a1) -- (268.5,989.7);
\draw[gred,gline] (d_calc) -- (340,1020);
\draw[lred,gline] (d_wdr35) -- (411.4,972);
\draw[black,gline] (d_slc38) -- (461.8,1011);
\draw[lred,gline] (d_cdc) -- (516.1,982);
\draw[black,gline] (d_trem3) -- (560.7,963.1);
\draw[lred,gline] (d_slc2a4) -- (552.2,1057);
\draw[lred,gline] (d_hif1a) -- (628.2,988);
\draw[black,gline] (d_hmbs) -- (713.4,1000);
\draw[black,gline] (d_map1lc3b) -- (781.2,958.4);
\draw[black,gline] (d_map1lc3a) -- (834.9,958.4);
\draw[gred,gline] (d_ccr9) -- (882.9,974);
\draw[gred,gline] (d_kdr) -- (940.4,963);
\draw[lred,gline] (d_pck2) -- (996.1,954.3);
\draw[gred,gline] (d_hk2) -- (1040.6,981);
\draw[gred,gline] (d_s100) -- (1093.1,1080);
\draw[black,gline] (d_fam) -- (1150.6,1057);
\draw[gred,gline] (d_nedd) -- (1218.8,973);
\draw[gred,gline] (d_klf1) -- (1305.1,987);
\draw[lred,gline] (d_hmox1r) -- (1200.8,1139);
\draw[gred,gline] (d_tnf) -- (241.4,1171);
\draw[gred,gline] (d_sfi1) -- (302,1225);
\draw[gred,gline] (d_galnt9) -- (380.4,1238);
\draw[black,gline] (d_slco) -- (437.8,1172);
\draw[lred,gline] (d_nfatc2) -- (759.3,1167);
% signal transduction targets
\draw[lred,line width=1.2pt,otip] (d_vcam) -- (213,966) -- (209.5,963) -- (200.5,972.5);
\draw[gred,line width=1.4pt] (d_vcam) -- (223.7,977.5);
\draw[gred,line width=1.2pt,otip] (211,990) -- (208,987.5) -- (198,997.5);
\end{pgfonlayer}
\end{tikzpicture}
\end{document}
